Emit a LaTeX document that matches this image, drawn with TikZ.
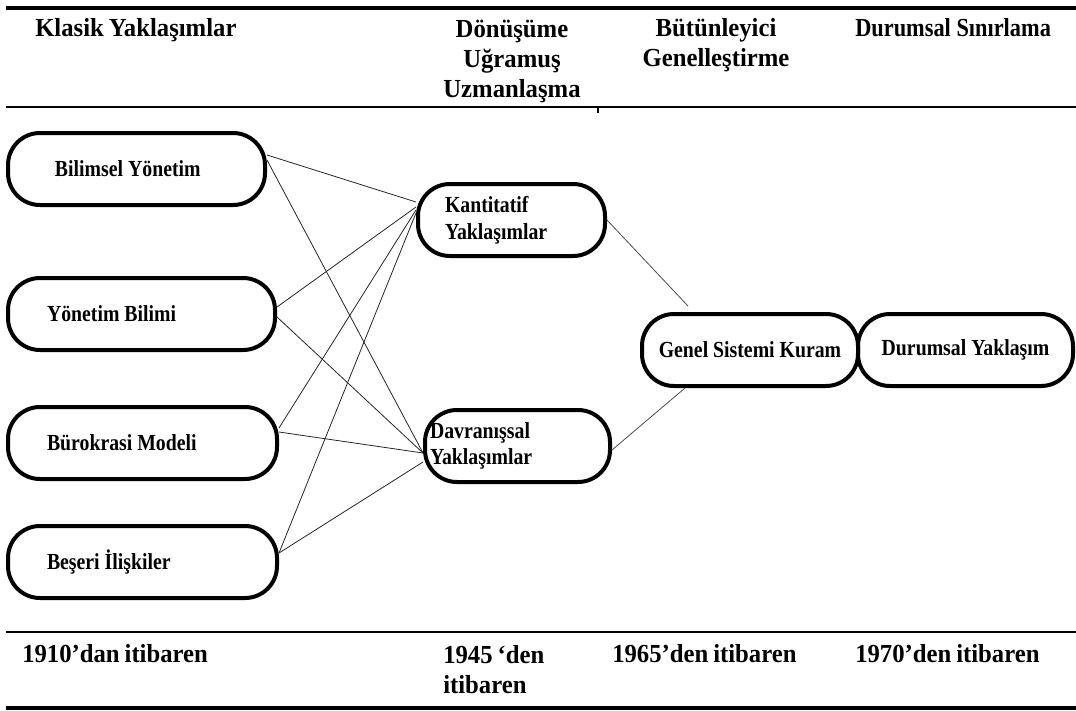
\documentclass[tikz,border=0pt]{standalone}
\usepackage{fontspec}
\setmainfont{Liberation Serif}
\newfontfamily\hdfont{Liberation Serif}[FakeStretch=0.95, WordSpace=0.8]
\newfontfamily\ndfont{Liberation Serif}[FakeStretch=0.86]

\begin{document}
\begin{tikzpicture}[x=0.75pt, y=-0.75pt,
    pill/.style={draw, line width=3pt, rounded corners=24pt, minimum height=54pt,
        inner ysep=0pt, align=flush left, font=\ndfont\bfseries\fontsize{17.25}{20}\selectfont},
    head/.style={inner sep=0pt, font=\hdfont\bfseries\fontsize{19.5}{22.5}\selectfont},
    link/.style={line width=0.6pt, black!85}]
        \useasboundingbox (0,0) rectangle (1076,711);

        % table rules
        \draw[line width=3.4pt] (6,8) -- (1076,8);
        \draw[line width=2.2pt] (6,107) -- (1076,107);
        \draw[line width=1.5pt] (598,107) -- (598,113);
        \draw[line width=2.2pt] (6,632) -- (1076,632);
        \draw[line width=3pt] (6,708) -- (1076,708);

        % base of a multi-line node is its last line
        \node[head, anchor=base west] (klasik) at (35,36) {Klasik Yaklaşımlar};
        \node[head, anchor=base, align=center] (donusum) at (512,97) {Dönüşüme\\Uğramuş\\Uzmanlaşma};
        \node[head, anchor=base, align=center] (butun) at (716,66) {Bütünleyici\\Genelleştirme};
        \node[head, anchor=base west, font=\ndfont\bfseries\fontsize{19.5}{22.5}\selectfont] (sinir) at (855,36) {Durumsal Sınırlama};

        \node[head, anchor=base west] (t1910) at (22,662) {1910’dan itibaren};
        \node[head, anchor=base west, align=left] (t1945) at (443,693) {1945 ‘den\\itibaren};
        \node[head, anchor=base west] (t1965) at (612,662) {1965’den itibaren};
        \node[head, anchor=base west] (t1970) at (855,662) {1970’den itibaren};

        \node[pill, text width=122.25pt, inner xsep=35.25pt] (bilimsel) at (136.5,169) {Bilimsel Yönetim};
        \node[pill, text width=141.75pt, inner xsep=29.25pt] (yonetim) at (141.5,314) {Yönetim Bilimi};
        \node[pill, text width=143.25pt, inner xsep=29.25pt] (burokrasi) at (142.5,443) {Bürokrasi Modeli};
        \node[pill, text width=143.25pt, inner xsep=29.25pt] (beseri) at (142.5,562) {Beşeri İlişkiler};

        \node[pill, text width=99.75pt, inner xsep=20.25pt] (kantitatif) at (511.5,220) {Kantitatif\\Yaklaşımlar};
        \node[pill, text width=131.25pt, inner xsep=3.75pt] (davranis) at (517.5,446) {Davranışsal\\Yaklaşımlar};

        \node[pill, text width=150pt, inner xsep=6pt, align=flush center] (genel) at (750,350) {Genel Sistemi Kuram};
        \node[pill, text width=149.25pt, inner xsep=6pt, align=flush center] (durumsal) at (965.5,350) {Durumsal Yaklaşım};

        \draw[link] ([yshift=10.5pt]bilimsel.east) -- ([yshift=13.5pt]kantitatif.west);
        \draw[link] ([yshift=6.75pt]bilimsel.east) -- ([yshift=-5.25pt]davranis.west);
        \draw[link] ([yshift=5.25pt]yonetim.east) -- ([yshift=9.75pt]kantitatif.west);
        \draw[link] ([yshift=-2.25pt]yonetim.east) -- ([yshift=-5.25pt]davranis.west);
        \draw[link] ([yshift=11.25pt]burokrasi.east) -- ([yshift=7.5pt]kantitatif.west);
        \draw[link] ([yshift=8.25pt]burokrasi.east) -- ([yshift=-5.25pt]davranis.west);
        \draw[link] ([yshift=6.75pt]beseri.east) -- ([yshift=5.25pt]kantitatif.west);
        \draw[link] ([yshift=6.75pt]beseri.east) -- ([yshift=-12pt]davranis.west);

        \draw[link, black!70] (kantitatif.east) -- ([xshift=-46.5pt, yshift=4.5pt]genel.north);
        \draw[link, black!70] ([yshift=-3pt]davranis.east) -- ([xshift=-48.75pt]genel.south);

    \end{tikzpicture}
\end{document}
